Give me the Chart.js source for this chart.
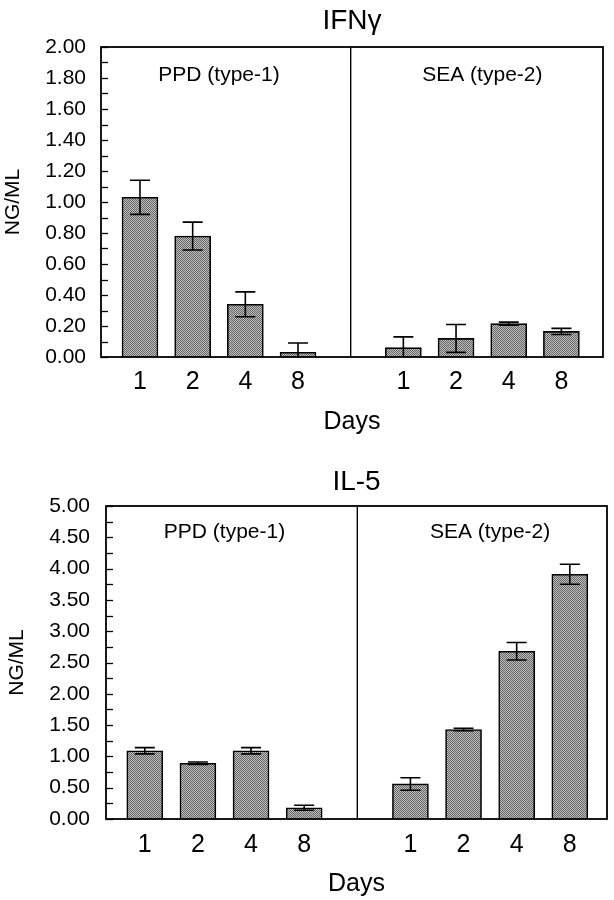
<!DOCTYPE html>
<html>
<head>
<meta charset="utf-8">
<script src="https://cdn.jsdelivr.net/npm/chart.js@4/dist/chart.umd.min.js"></script>
<style>
  html, body { margin: 0; padding: 0; background: #ffffff; }
  canvas { display: block; }
</style>
</head>
<body>
<canvas id="c1" width="614" height="450"></canvas>
<canvas id="c2" width="614" height="450"></canvas>
<script>
// ---- data ----
const dayLabels = ['1', '2', '4', '8'];
const groupLabels = ['PPD (type-1)', 'SEA (type-2)'];

const ifnPPD    = [1.03, 0.78, 0.34, 0.03];
const ifnPPDErr = [0.11, 0.09, 0.08, 0.06];
const ifnSEA    = [0.06, 0.12, 0.215, 0.165];
const ifnSEAErr = [0.07, 0.09, 0.01, 0.02];

const il5PPD    = [1.09, 0.89, 1.09, 0.18];
const il5PPDErr = [0.05, 0.02, 0.05, 0.04];
const il5SEA    = [0.56, 1.43, 2.68, 3.91];
const il5SEAErr = [0.10, 0.02, 0.14, 0.16];

const FONT = "'Liberation Sans', Arial, Helvetica, sans-serif";

function makePattern() {
  const p = document.createElement('canvas');
  p.width = 2; p.height = 2;
  const g = p.getContext('2d');
  g.fillStyle = '#c0c0c0'; g.fillRect(0, 0, 2, 2);
  g.fillStyle = '#646464'; g.fillRect(0, 0, 1, 1); g.fillRect(1, 1, 1, 1);
  return g.createPattern(p, 'repeat');
}

// slot positions: PPD at 0..3, divider at 4, SEA at 5..8
function buildPoints(ppd, sea) {
  const pts = [];
  ppd.forEach((v, i) => pts.push({ x: i, y: v }));
  sea.forEach((v, i) => pts.push({ x: i + 5, y: v }));
  return pts;
}
function buildErr(ppd, sea) { return ppd.concat(sea); }

const panelPlugin = {
  id: 'panelPlugin',
  afterDatasetsDraw(chart, args, opts) {
    const ctx = chart.ctx;
    const { left, right, top, bottom } = chart.chartArea;
    const xs = chart.scales.x, ys = chart.scales.y;
    // error bars
    const meta = chart.getDatasetMeta(0);
    const errs = opts.errors;
    ctx.save();
    ctx.beginPath();
    ctx.rect(left, top, right - left, bottom - top);
    ctx.clip();
    ctx.strokeStyle = '#000';
    ctx.lineWidth = 1.6;
    meta.data.forEach((bar, i) => {
      const v = chart.data.datasets[0].data[i].y;
      const e = errs[i];
      const x = bar.x;
      const y1 = ys.getPixelForValue(v + e);
      const y2 = ys.getPixelForValue(v - e);
      ctx.beginPath();
      ctx.moveTo(x, y1); ctx.lineTo(x, y2);
      ctx.moveTo(x - 10, y1); ctx.lineTo(x + 10, y1);
      ctx.moveTo(x - 10, y2); ctx.lineTo(x + 10, y2);
      ctx.stroke();
    });
    ctx.restore();

    ctx.save();
    ctx.strokeStyle = '#000';
    // inner ticks on the y axis
    ctx.lineWidth = 1.3;
    for (let k = 0; k <= opts.nMinor; k++) {
      const v = ys.min + k * opts.minorStep;
      const y = Math.round(ys.getPixelForValue(v)) + 0.5;
      ctx.beginPath();
      ctx.moveTo(left, y); ctx.lineTo(left + 7, y);
      ctx.stroke();
    }
    // frame
    ctx.lineWidth = 1.8;
    ctx.strokeRect(left, top, right - left, bottom - top);
    // divider between groups
    const xd = xs.getPixelForValue(4);
    ctx.lineWidth = 1.4;
    ctx.beginPath();
    ctx.moveTo(xd, top); ctx.lineTo(xd, bottom);
    ctx.stroke();
    // group labels
    ctx.fillStyle = '#000';
    ctx.font = '21px ' + FONT;
    ctx.textAlign = 'center';
    ctx.textBaseline = 'middle';
    ctx.fillText(groupLabels[0], xs.getPixelForValue(1.5), top + opts.labelDy);
    ctx.fillText(groupLabels[1], xs.getPixelForValue(6.5), top + opts.labelDy);
    ctx.restore();
  }
};

function makeChart(id, cfg) {
  const pattern = makePattern();
  return new Chart(document.getElementById(id), {
    type: 'bar',
    data: {
      datasets: [{
        data: buildPoints(cfg.ppd, cfg.sea),
        backgroundColor: pattern,
        borderColor: '#000',
        borderWidth: 1.6,
        borderSkipped: 'bottom',
        barThickness: 36
      }]
    },
    options: {
      responsive: false,
      animation: false,
      events: [],
      layout: { padding: { left: 0, right: cfg.padRight, top: 0, bottom: 0 } },
      plugins: {
        legend: { display: false },
        tooltip: { enabled: false },
        title: {
          display: true,
          fullSize: false,
          text: cfg.title,
          color: '#000',
          font: { family: FONT, size: 28, weight: 'normal' },
          padding: { top: cfg.titleTop, bottom: cfg.titleBottom }
        },
        panelPlugin: {
          errors: buildErr(cfg.ppdErr, cfg.seaErr),
          minorStep: cfg.minorStep,
          nMinor: cfg.nMinor,
          labelDy: cfg.labelDy
        }
      },
      scales: {
        x: {
          type: 'linear',
          offset: false,
          min: cfg.xMin,
          max: cfg.xMax,
          grid: { display: false, drawTicks: false, offset: false },
          border: { display: false },
          afterBuildTicks(scale) {
            scale.ticks = [0, 1, 2, 3, 5, 6, 7, 8].map(v => ({ value: v }));
          },
          afterFit(scale) { scale.height = cfg.xAxisH; },
          ticks: {
            autoSkip: false,
            maxRotation: 0,
            padding: cfg.xTickPad,
            color: '#000',
            font: { family: FONT, size: 25 },
            callback(v) { return dayLabels[v < 4 ? v : v - 5]; }
          },
          title: {
            display: true,
            text: 'Days',
            color: '#000',
            font: { family: FONT, size: 25 },
            padding: { top: 0, bottom: cfg.daysBottom }
          }
        },
        y: {
          min: 0,
          max: cfg.yMax,
          grid: { display: false, drawTicks: false },
          border: { display: false },
          afterFit(scale) { scale.width = cfg.yAxisW; },
          ticks: {
            stepSize: cfg.yStep,
            padding: cfg.yTickPad,
            color: '#000',
            font: { family: FONT, size: 21 },
            callback(v) { return Number(v).toFixed(2); }
          },
          title: {
            display: true,
            text: 'NG/ML',
            color: '#000',
            font: { family: FONT, size: 21 },
            padding: { top: cfg.ngPad, bottom: 0 }
          }
        }
      }
    },
    plugins: [panelPlugin]
  });
}

makeChart('c1', {
  title: 'IFN\u03b3',
  ppd: ifnPPD, sea: ifnSEA, ppdErr: ifnPPDErr, seaErr: ifnSEAErr,
  yMax: 2, yStep: 0.2, minorStep: 0.1, nMinor: 20,
  xMin: -0.74, xMax: 8.79,
  padRight: 11, yAxisW: 101, xAxisH: 93,
  titleTop: 4, titleBottom: 9.4,
  xTickPad: 10, daysBottom: 13, yTickPad: 15, ngPad: 1, labelDy: 28
});

makeChart('c2', {
  title: 'IL-5',
  ppd: il5PPD, sea: il5SEA, ppdErr: il5PPDErr, seaErr: il5SEAErr,
  yMax: 5, yStep: 0.5, minorStep: 0.25, nMinor: 20,
  xMin: -0.73, xMax: 8.70,
  padRight: 7, yAxisW: 106, xAxisH: 81,
  titleTop: 15.5, titleBottom: 6.9,
  xTickPad: 11, daysBottom: 1, yTickPad: 16, ngPad: 5, labelDy: 26
});
</script>
</body>
</html>
